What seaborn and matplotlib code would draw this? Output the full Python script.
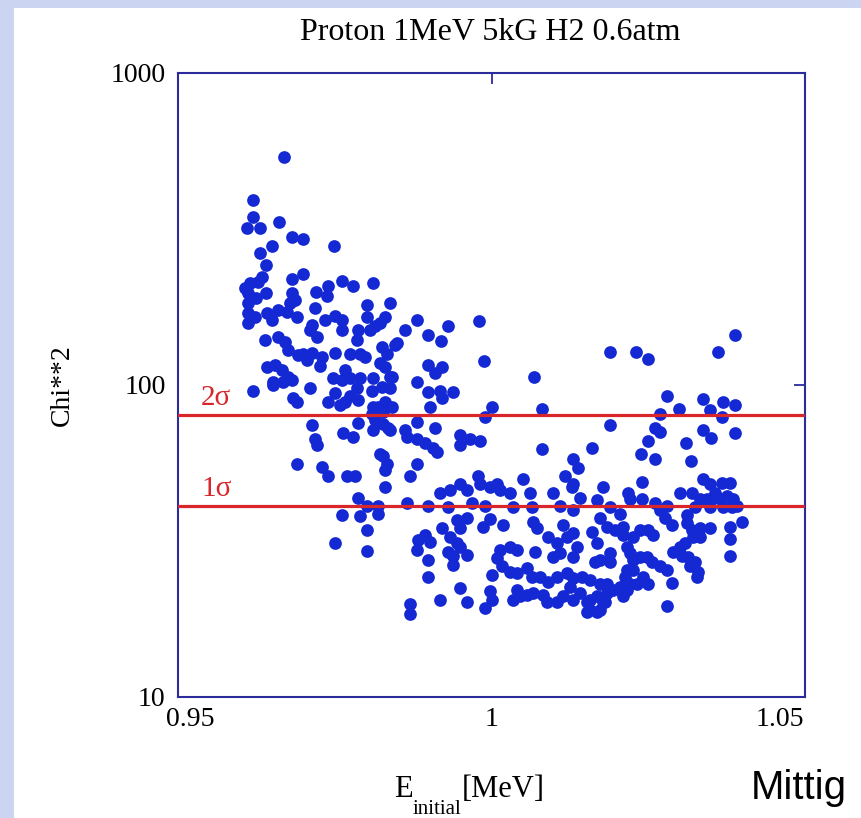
import matplotlib
matplotlib.use("Agg")
import matplotlib.pyplot as plt
import matplotlib.transforms as mtransforms
from matplotlib.patches import Rectangle
from matplotlib.ticker import NullLocator
import numpy as np
import pandas as pd
import seaborn as sns

# ---------------- data ----------------
title = "Proton 1MeV 5kG H2 0.6atm"
x_ticks = [0.95, 1.0, 1.05]
x_tick_labels = ["0.95", "1", "1.05"]
y_ticks = [10, 100, 1000]
y_tick_labels = ["10", "100", "1000"]
sigma_levels = [80.0, 41.0]
sigma_labels = ["2σ", "1σ"]

energy_a = [0.9669, 0.9620, 0.9620, 0.9610, 0.9631, 0.9661, 0.9682, 0.9699, 0.9650, 0.9749,
            0.9631, 0.9640, 0.9634, 0.9628, 0.9615, 0.9699, 0.9682, 0.9762, 0.9779, 0.9811,
            0.9720, 0.9739, 0.9738, 0.9640, 0.9612, 0.9682, 0.9687, 0.9679, 0.9607, 0.9624]
chi2_a = [538, 392, 346, 319, 319, 333, 299, 294, 279, 279,
          265, 243, 222, 214, 212, 227, 219, 216, 207, 212,
          199, 207, 193, 197, 197, 197, 187, 183, 205, 190]

energy_b = [0.9612, 0.9612, 0.9612, 0.9623, 0.9642, 0.9650, 0.9659, 0.9674, 0.9690, 0.9719,
            0.9750, 0.9762, 0.9734, 0.9714, 0.9711, 0.9722, 0.9801, 0.9801, 0.9838, 0.9814,
            0.9830, 0.9881, 0.9862, 0.9899, 0.9822, 0.9931, 0.9980, 0.9787, 0.9762, 0.9785,
            0.9806]
chi2_b = [183, 170, 158, 165, 170, 162, 174, 171, 165, 177,
          167, 162, 162, 156, 150, 143, 180, 165, 183, 154,
          165, 162, 150, 145, 158, 155, 160, 150, 150, 139,
          150]

energy_c = [0.9639, 0.9659, 0.9671, 0.9675, 0.9691, 0.9706, 0.9714, 0.9730, 0.9726, 0.9750,
            0.9774, 0.9790, 0.9798, 0.9825, 0.9833, 0.9846, 0.9822, 0.9830, 0.9899, 0.9642,
            0.9655, 0.9666, 0.9652, 0.9675, 0.9682, 0.9766, 0.9774, 0.9762, 0.9849, 0.9919,
            0.9910, 0.9921, 0.9988, 0.9838, 0.9881, 1.0068, 0.9699]
chi2_c = [139, 143, 137, 129, 125, 120, 127, 123, 115, 127,
          126, 126, 123, 132, 126, 134, 118, 114, 116, 114,
          116, 112, 102, 106, 104, 112, 105, 104, 136, 138,
          109, 114, 119, 106, 102, 106, 126]

energy_d = [0.9620, 0.9711, 0.9683, 0.9690, 0.9747, 0.9750, 0.9739, 0.9790, 0.9785, 0.9774,
            0.9766, 0.9787, 0.9811, 0.9809, 0.9825, 0.9841, 0.9838, 0.9830, 0.9819, 0.9841,
            0.9899, 0.9902, 0.9652, 0.9667, 0.9758, 0.9811, 0.9827, 0.9918, 0.9921, 0.9939,
            1.0001, 0.9990, 1.0081]
chi2_d = [96, 98, 91, 88, 105, 94, 88, 105, 98, 92,
          88, 89.5, 105, 96, 98.5, 106, 98, 88, 85, 85,
          95, 85, 100, 102, 86, 85, 82, 96, 91, 95,
          85, 79, 84]

energy_e = [0.9714, 0.9787, 0.9814, 0.9835, 0.9862, 0.9881, 0.9719, 0.9722, 0.9763, 0.9779,
            0.9809, 0.9811, 0.9827, 0.9690, 0.9730, 0.9739, 0.9770, 0.9782, 0.9827, 0.9833,
            0.9830, 0.9830, 0.9865, 0.9881, 0.9894, 0.9907, 0.9913, 0.9950, 0.9950, 0.9966,
            0.9982, 1.0081, 1.0160, 1.0130, 1.0138, 0.9881, 0.9870, 0.9978, 1.0050, 1.0117,
            1.0130, 1.0128, 1.0178, 0.9918, 0.9934, 0.9950, 0.9961, 0.9982, 0.9998, 1.0009,
            1.0014, 1.0030, 1.0061, 1.0098, 0.9910, 0.9838, 0.9822, 1.0189]
chi2_e = [74.5, 75.6, 77, 73, 72, 76, 67, 64, 70, 68,
          81, 72, 75, 56, 54.5, 51, 51, 51, 59, 56,
          53.4, 47, 68, 67, 65, 63, 61, 69, 64, 67,
          66, 62.5, 63, 58, 54, 56, 51, 51, 50, 51,
          48, 47, 47, 45, 46, 48, 46, 48, 47, 48,
          46, 45, 45, 45, 73, 72, 60, 74.5]

energy_f = [1.0189, 1.0230, 1.0250, 1.0361, 1.0388, 1.0280, 1.0299, 1.0269, 1.0337, 1.0348,
            1.0369, 1.0368, 1.0388]
chi2_f = [128, 128, 121, 128, 145, 92, 84, 81, 90, 83,
          88, 79, 86]

energy_g = [1.0261, 1.0269, 1.0337, 1.0350, 1.0388, 1.0250, 1.0238, 1.0261, 1.0310, 1.0318,
            1.0240, 1.0218, 1.0221, 1.0240, 1.0261, 1.0280, 1.0301, 1.0320, 1.0337, 1.0348,
            1.0356, 1.0368, 1.0380, 1.0333, 1.0344, 1.0361, 1.0376, 1.0385, 1.0392, 1.0325,
            1.0348, 1.0369, 1.0384]
chi2_g = [73, 70.5, 72, 67.5, 70, 66, 60, 58, 65, 57,
          49, 45, 43, 43, 42, 41, 45, 45, 50, 48,
          45, 48.5, 48.5, 43, 43, 43.5, 44, 43, 41, 40.5,
          40.5, 40.5, 40.5]

energy_h = [1.0400, 1.0380, 1.0380, 1.0380, 1.0348, 1.0189, 1.0205, 1.0173, 1.0269, 1.0277,
            1.0288, 1.0312, 1.0312, 1.0320, 1.0333, 1.0333, 1.0321, 1.0309, 1.0301, 1.0289,
            1.0304, 1.0313, 1.0325, 1.0329, 1.0317, 1.0184, 1.0197, 1.0210, 1.0210, 1.0226,
            1.0237, 1.0250, 1.0258, 1.0216, 1.0221, 1.0226, 1.0216, 1.0213, 1.0226, 1.0237,
            1.0248, 1.0256, 1.0269, 1.0280, 1.0288, 1.0250, 1.0242, 1.0232, 1.0189, 1.0189,
            1.0173, 1.0184, 1.0184, 1.0194, 1.0205, 1.0216, 1.0210, 1.0181, 1.0173, 1.0221,
            1.0280, 1.0328, 1.0157, 1.0168, 1.0157]
chi2_h = [36.4, 35, 32, 28.3, 34.8, 40.5, 38.6, 37.5, 39.8, 37.5,
          35.6, 38.3, 36.2, 34.3, 34.8, 32.6, 32.6, 31.2, 30.3, 29.2,
          28.3, 28.1, 27.1, 25.2, 26.2, 35, 34.3, 35, 33.1, 32.6,
          34.3, 34.3, 33.1, 30.3, 29.0, 27.5, 25.6, 24.3, 25.6, 28.1,
          28.1, 27.1, 26.2, 25.6, 23.2, 23.0, 24.3, 23.0, 29.0, 27.1,
          27.5, 23.0, 21.6, 22.1, 22.6, 22.1, 21.0, 20.1, 19.0, 23.0,
          19.6, 24.3, 19.0, 18.7, 20.5]

energy_i = [0.9865, 0.9899, 0.9931, 0.9969, 0.9990, 1.0034, 1.0065, 1.0109, 1.0130, 1.0141,
            1.0168, 0.9961, 0.9998, 1.0018, 0.9986, 0.9945, 0.9950, 0.9921, 1.0066, 1.0073,
            1.0114, 0.9894, 0.9902, 0.9883, 0.9934, 0.9945, 0.9950, 0.9881, 0.9931, 0.9939,
            0.9939, 0.9961, 0.9899, 0.9899, 1.0014, 1.0030, 1.0041, 1.0009, 1.0017, 1.0030,
            1.0041, 1.0001, 1.0069, 1.0090, 1.0104, 1.0120, 1.0130, 1.0136, 1.0098, 1.0109,
            1.0130, 1.0160, 1.0168, 1.0165, 1.0057, 1.0065, 1.0077, 1.0090, 1.0105, 1.0120,
            1.0130, 1.0144, 1.0157, 1.0173, 1.0041, 1.0034, 1.0045, 1.0057, 1.0066, 1.0082,
            1.0089, 1.0105, 1.0114, 1.0125, 1.0130, 1.0141, 1.0152, 1.0152, 1.0168, 1.0178,
            0.9950, 0.9961, 0.9998, 1.0001, 0.9990, 0.9918, 0.9870, 0.9870]
chi2_i = [42, 41, 40.5, 41.8, 41, 40.5, 40.5, 41, 39.8, 43.4,
          42.8, 37.5, 37.2, 35.6, 35, 36.9, 34.8, 34.8, 36.4, 34.8,
          35.6, 33.1, 31.4, 31.9, 32.6, 31.2, 30.3, 29.6, 29.2, 28.3,
          26.5, 28.5, 27.5, 24.3, 29.6, 30.3, 29.6, 27.9, 26.2, 25.2,
          25.0, 24.6, 29.2, 32.6, 31.2, 32.6, 33.6, 30.3, 28.1, 29.0,
          28.1, 33.8, 31.2, 27.1, 26.0, 24.3, 24.3, 23.4, 24.3, 25.0,
          24.1, 24.3, 23.7, 23.0, 22.1, 20.5, 21.0, 21.3, 21.6, 21.3,
          20.1, 20.1, 21.0, 22.6, 20.5, 21.6, 20.1, 18.7, 21.0, 20.1,
          22.4, 20.2, 21.8, 20.5, 19.3, 20.5, 19.8, 18.5]

energy_j = [0.9787, 0.9801, 0.9819, 0.9762, 0.9790, 0.9819, 0.9801, 0.9750, 0.9801]
chi2_j = [43.4, 41, 41, 38.3, 38, 38.6, 34.3, 31.2, 29.4]

energy = (energy_a + energy_b + energy_c + energy_d + energy_e +
          energy_f + energy_g + energy_h + energy_i + energy_j)
chi2 = (chi2_a + chi2_b + chi2_c + chi2_d + chi2_e +
        chi2_f + chi2_g + chi2_h + chi2_i + chi2_j)

# ---------------- figure ----------------
sns.set_style("white")
plt.rcParams["font.family"] = ["Liberation Serif", "DejaVu Serif"]
plt.rcParams["text.color"] = "black"
plt.rcParams["xtick.labelcolor"] = "black"
plt.rcParams["ytick.labelcolor"] = "black"

W, H = 861, 818
fig = plt.figure(figsize=(W / 100, H / 100), dpi=100)
fig.patch.set_facecolor("#cbd5f2")
bg = Rectangle((14 / W, 0), 1 - 14 / W, 1 - 8 / H,
               transform=fig.transFigure, facecolor="white",
               edgecolor="none", zorder=-10)
fig.patches.append(bg)

ax = fig.add_axes([178 / W, 1 - 697 / H, (805 - 178) / W, (697 - 73) / H])
ax.set_zorder(1)
ax.set_facecolor("white")

df = pd.DataFrame({"E": energy, "chi2": chi2})
sns.scatterplot(data=df, x="E", y="chi2", ax=ax, color="#1428d4", s=84,
                linewidth=0, zorder=3, legend=False)

ax.set_yscale("log")
ax.set_xlim(0.95, 1.05)
ax.set_ylim(10, 1000)

red = "#d8262a"
for lvl, lab in zip(sigma_levels, sigma_labels):
    ax.axhline(lvl, color=red, lw=2.3, zorder=4)
    ax.annotate(lab, xy=(0.9537, lvl), xytext=(0, 3), textcoords="offset points",
                color=red, fontsize=21, ha="left", va="bottom", zorder=5)

ax.set_xticks(x_ticks)
ax.set_xticklabels(x_tick_labels)
ax.set_yticks(y_ticks)
ax.set_yticklabels(y_tick_labels)
ax.yaxis.set_minor_locator(NullLocator())
ax.xaxis.set_minor_locator(NullLocator())
ax.set_xlabel("")
ax.set_ylabel("")

axis_blue = "#2b2b9e"
ax.tick_params(axis="both", which="major", direction="in", length=8, width=1.3,
               color=axis_blue, labelcolor="black", labelsize=20,
               top=True, right=True)
ax.tick_params(axis="x", pad=7)
ax.tick_params(axis="y", pad=9)
for sp in ax.spines.values():
    sp.set_color(axis_blue)
    sp.set_linewidth(1.5)
    sp.set_visible(True)

# shift end x tick labels as in the reference
xl = ax.get_xticklabels()
shifts = [12, 0, -25]
for lab, dx in zip(xl, shifts):
    lab.set_transform(lab.get_transform() +
                      mtransforms.ScaledTranslation(dx / 100, 0, fig.dpi_scale_trans))

fig.text(490 / W, 1 - 33 / H, title, ha="center", va="center", fontsize=23,
         color="black")
fig.text(62 / W, 1 - 385 / H, "Chi**2", rotation=90, ha="center", va="center",
         fontsize=20, color="black")

# x label: E_initial[MeV]
fig.canvas.draw()
t1 = fig.text(394 / W, 1 - 797 / H, "E", ha="left", va="baseline", fontsize=22,
              color="black")
fig.canvas.draw()
bb = t1.get_window_extent()
t2 = fig.text(bb.x1 / W, 1 - 814 / H, "initial", ha="left", va="baseline",
              fontsize=15, color="black")
fig.canvas.draw()
bb2 = t2.get_window_extent()
fig.text(bb2.x1 / W, 1 - 797 / H, "[MeV]", ha="left", va="baseline", fontsize=22,
         color="black")

fig.text(751 / W, 1 - 799 / H, "Mittig", ha="left", va="baseline", fontsize=29,
         color="black", family=["Liberation Sans", "DejaVu Sans"])

fig.savefig("out.png", dpi=100)
